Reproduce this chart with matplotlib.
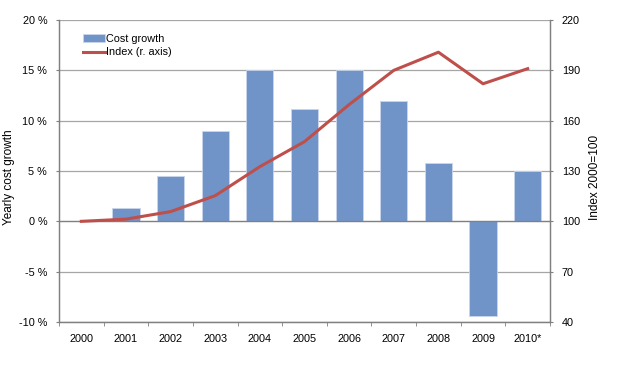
import matplotlib
matplotlib.use('Agg')
import matplotlib.pyplot as plt
import numpy as np

years = ['2000', '2001', '2002', '2003', '2004', '2005', '2006', '2007', '2008', '2009', '2010*']
cost_growth = [0.0, 1.3, 4.5, 9.0, 15.0, 11.2, 15.0, 12.0, 5.8, -9.4, 5.0]
index_values = [100, 101.3, 105.8, 115.3, 132.6, 147.5, 169.6, 190, 200.8, 182, 191]

plt.rcParams['font.family'] = ['Liberation Sans', 'DejaVu Sans']
plt.rcParams['font.size'] = 7.8

fig = plt.figure(figsize=(6.2, 3.67), dpi=100)
ax = fig.add_axes([59 / 620, 1 - 322 / 367, (550 - 59) / 620, (322 - 20) / 367])
ax2 = ax.twinx()

x = np.arange(len(years))
bars = ax.bar(x, cost_growth, width=0.61, color='#7094C8', edgecolor='#C9D6EA',
              linewidth=0.6, label='Cost growth', zorder=2)
line, = ax2.plot(x, index_values, color='#BE4F4B', linewidth=2.2, label='Index (r. axis)')

ax.set_xlim(-0.5, len(years) - 0.5)
ax.set_ylim(-10, 20)
ax.set_yticks(range(-10, 21, 5))
ax.set_yticklabels(['%d %%' % v for v in range(-10, 21, 5)])
ax.yaxis.grid(True, color='#A6A6A6', linewidth=0.9, zorder=0)
ax.set_axisbelow(True)
ax.axhline(0, color='#808080', linewidth=0.9, zorder=3)

ax2.set_ylim(40, 220)
ax2.set_yticks(range(40, 221, 30))

ax.set_xticks(x)
ax.set_xticklabels(years)
ax.set_xticks(np.arange(-0.5, len(years), 1), minor=True)
ax.tick_params(axis='x', which='major', length=0, pad=9)
ax.tick_params(axis='x', which='minor', length=3, color='#808080', direction='out')
ax.tick_params(axis='y', length=2.5, color='#808080', direction='out', pad=6)
ax2.tick_params(axis='y', length=2.5, color='#808080', direction='out', pad=6)

for a in (ax, ax2):
    a.spines['top'].set_visible(False)
    for s in ('left', 'right', 'bottom'):
        a.spines[s].set_color('#808080')
        a.spines[s].set_linewidth(0.9)

ax.set_ylabel('Yearly cost growth', fontsize=8.5)
ax.yaxis.set_label_coords(-0.09, 0.48)
ax2.set_ylabel('Index 2000=100', fontsize=8.5)
ax2.yaxis.set_label_coords(1.08, 0.48)

ax.legend([bars, line], ['Cost growth', 'Index (r. axis)'], loc='upper left',
          bbox_to_anchor=(0.049, 0.955), frameon=False, borderpad=0, borderaxespad=0,
          handlelength=2.0, handletextpad=0.15, labelspacing=0.35, fontsize=7.8)

fig.savefig('out.png', dpi=100)
